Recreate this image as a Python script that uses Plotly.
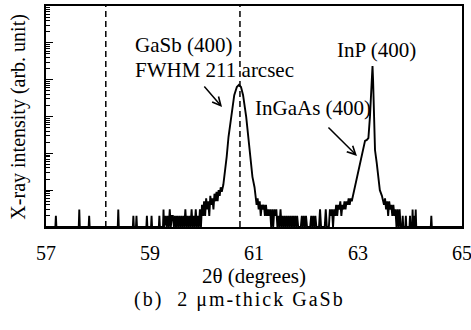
import plotly.graph_objects as go

# ---- data ----
two_theta = [
    57.00, 57.18, 57.19, 57.20, 57.63, 57.64, 57.65, 57.82, 57.83, 57.84,
    58.38, 58.39, 58.40, 58.67, 58.68, 58.69, 58.73, 58.74, 58.75, 58.93,
    58.94, 58.95, 59.02, 59.03, 59.04, 59.17, 59.18, 59.19, 59.25, 59.26,
    59.27, 59.30, 59.32, 59.34, 59.36, 59.38, 59.40, 59.42, 59.44, 59.46,
    59.48, 59.50, 59.52, 59.54, 59.56, 59.58, 59.60, 59.62, 59.64, 59.66,
    59.68, 59.70, 59.72, 59.74, 59.76, 59.78, 59.80, 59.82, 59.84, 59.86,
    59.88, 59.90, 59.92, 59.94, 59.96, 59.98, 60.00, 60.02, 60.04, 60.06,
    60.08, 60.10, 60.12, 60.14, 60.16, 60.18, 60.20, 60.22, 60.24, 60.26,
    60.28, 60.30, 60.32, 60.34, 60.36, 60.38, 60.41, 60.43, 60.475, 60.51,
    60.56, 60.62, 60.67, 60.71, 60.75, 60.79, 60.85, 60.89, 60.92, 60.97,
    61.01, 61.03, 61.05, 61.07, 61.09, 61.11, 61.13, 61.15, 61.17, 61.19,
    61.21, 61.23, 61.25, 61.27, 61.29, 61.31, 61.33, 61.35, 61.37, 61.39,
    61.41, 61.43, 61.45, 61.47, 61.49, 61.51, 61.53, 61.55, 61.57, 61.59,
    61.61, 61.63, 61.65, 61.67, 61.69, 61.71, 61.73, 61.75, 61.77, 61.79,
    61.81, 61.83, 61.85, 61.90, 61.92, 61.94, 61.96, 61.98, 62.00, 62.02,
    62.08, 62.10, 62.12, 62.14, 62.16, 62.18, 62.20, 62.25, 62.27, 62.29,
    62.36, 62.38, 62.40, 62.44, 62.46, 62.48, 62.50, 62.52, 62.54, 62.56,
    62.58, 62.60, 62.62, 62.64, 62.66, 62.68, 62.70, 62.72, 62.74, 62.76,
    62.78, 62.80, 62.82, 62.84, 62.86, 62.88, 62.91, 62.95, 62.99, 63.04,
    63.09, 63.135, 63.17, 63.20, 63.23, 63.265, 63.279, 63.29, 63.308, 63.327,
    63.36, 63.39, 63.42, 63.46, 63.48, 63.50, 63.52, 63.54, 63.56, 63.58,
    63.60, 63.62, 63.64, 63.66, 63.68, 63.70, 63.72, 63.74, 63.76, 63.78,
    63.80, 63.82, 63.85, 63.86, 63.87, 63.91, 63.92, 63.93, 63.99, 64.00,
    64.01, 64.04, 64.05, 64.06, 64.08, 64.09, 64.10, 64.11, 64.12, 64.40,
    64.41, 64.42, 65.00,
]
intensity = [
    1, 1, 2, 1, 1, 3, 1, 1, 2, 1,
    1, 3, 1, 1, 2, 1, 1, 2, 1, 1,
    2, 1, 1, 2, 1, 1, 2, 1, 1, 3,
    1, 2, 1, 2, 1, 3, 1, 2, 2, 1,
    2, 1, 2, 1, 2, 1, 2, 1, 2, 1,
    3, 1, 2, 1, 2, 1, 3, 1, 2, 1,
    3, 1, 2, 1, 3, 1, 4, 2, 5, 2,
    6, 3, 5, 2, 7, 4, 6, 3, 8, 5,
    9, 5, 10, 7, 12, 9, 14, 23, 81, 282,
    977, 3800, 6300, 7200, 6300, 3800, 977, 282, 81, 23,
    12, 8, 4, 6, 3, 5, 2, 4, 3, 4,
    2, 4, 2, 3, 2, 3, 1, 3, 1, 3,
    2, 3, 1, 2, 1, 3, 1, 2, 1, 2,
    1, 2, 1, 2, 1, 2, 1, 2, 1, 2,
    1, 2, 1, 1, 2, 1, 2, 1, 2, 1,
    1, 2, 1, 2, 1, 2, 1, 1, 3, 1,
    1, 3, 1, 1, 3, 2, 3, 1, 3, 2,
    4, 2, 4, 3, 5, 2, 4, 3, 5, 3,
    5, 4, 6, 4, 6, 5, 8, 14, 23, 55,
    123, 219, 232, 260, 990, 9800, 23400, 9800, 990, 123,
    55, 23, 10, 7, 5, 4, 6, 3, 5, 2,
    5, 3, 4, 2, 4, 2, 3, 1, 3, 1,
    3, 1, 1, 2, 1, 1, 2, 1, 1, 2,
    1, 1, 3, 1, 1, 2, 1, 3, 1, 1,
    2, 1, 1,
]

reference_lines = [58.15, 60.73]
x_ticks = [57, 59, 61, 63, 65]
x_ticklabels = ["57", "59", "61", "63", "65"]

FONT = "Liberation Serif, Times New Roman, serif"
fig = go.Figure()

fig.add_trace(go.Scatter(
    x=two_theta, y=intensity, mode="lines",
    line=dict(color="black", width=1.9),
    showlegend=False, hoverinfo="skip",
))

for xv in reference_lines:
    fig.add_shape(type="line", xref="x", yref="paper", x0=xv, x1=xv, y0=0, y1=1,
                  line=dict(color="black", width=1.5, dash="6px,4px"))

fig.update_xaxes(
    range=[57, 65], tickvals=x_ticks, ticktext=x_ticklabels,
    showline=True, linecolor="black", linewidth=1.5, mirror=True,
    ticks="", ticklabelstandoff=7, ticklabeloverflow="allow",
    showgrid=False, zeroline=False, automargin=False,
    tickfont=dict(family=FONT, size=20, color="black"),
)
fig.update_yaxes(
    type="log", range=[0, 6], dtick=1, showticklabels=False,
    showline=True, linecolor="black", linewidth=1.5, mirror=True,
    ticks="inside", ticklen=7, tickwidth=1.2, tickcolor="black",
    minor=dict(ticks="inside", ticklen=4, tickwidth=1, tickcolor="black", dtick="D1"),
    showgrid=False, zeroline=False, automargin=False,
)

annot_font = dict(family=FONT, size=21, color="black")
title_font = dict(family=FONT, size=20, color="black")
anns = [
    dict(x=58.67, y=4.94, xref="x", yref="y", text="GaSb (400)", showarrow=False,
         xanchor="left", yanchor="middle", font=annot_font),
    dict(x=58.67, y=4.26, xref="x", yref="y", text="FWHM 211 arcsec", showarrow=False,
         xanchor="left", yanchor="middle", font=annot_font),
    dict(x=63.356, y=4.81, xref="x", yref="y", text="InP (400)", showarrow=False,
         xanchor="center", yanchor="middle", font=annot_font),
    dict(x=62.14, y=3.23, xref="x", yref="y", text="InGaAs (400)", showarrow=False,
         xanchor="center", yanchor="middle", font=annot_font),
    # arrows
    dict(x=60.385, y=3.26, xref="x", yref="y", text="", showarrow=True,
         ax=-19, ay=-22, arrowhead=5, arrowsize=1.1, arrowwidth=1.5, arrowcolor="black"),
    dict(x=62.98, y=1.93, xref="x", yref="y", text="", showarrow=True,
         ax=-30, ay=-30, arrowhead=5, arrowsize=1.1, arrowwidth=1.5, arrowcolor="black"),
    # axis titles and caption
    dict(x=0.5, y=-0.222, xref="paper", yref="paper", text="2θ (degrees)", showarrow=False,
         xanchor="center", yanchor="middle", font=annot_font),
    dict(x=-0.067, y=0.5, xref="paper", yref="paper", text="X-ray intensity (arb. unit)",
         showarrow=False, textangle=-90, xanchor="center", yanchor="middle", font=title_font),
    dict(x=0.465, y=-0.33, xref="paper", yref="paper",
         text='<span style="letter-spacing:2px">(b)  2 μm-thick GaSb</span>',
         showarrow=False, xanchor="center", yanchor="middle", font=title_font),
]
fig.update_layout(
    annotations=anns,
    width=471, height=330,
    margin=dict(l=46, r=9, t=6, b=103, autoexpand=False),
    plot_bgcolor="white", paper_bgcolor="white",
    showlegend=False,
)

fig.write_html("out.html", config={"displayModeBar": False},
               post_script="document.body.style.margin='0px';")
